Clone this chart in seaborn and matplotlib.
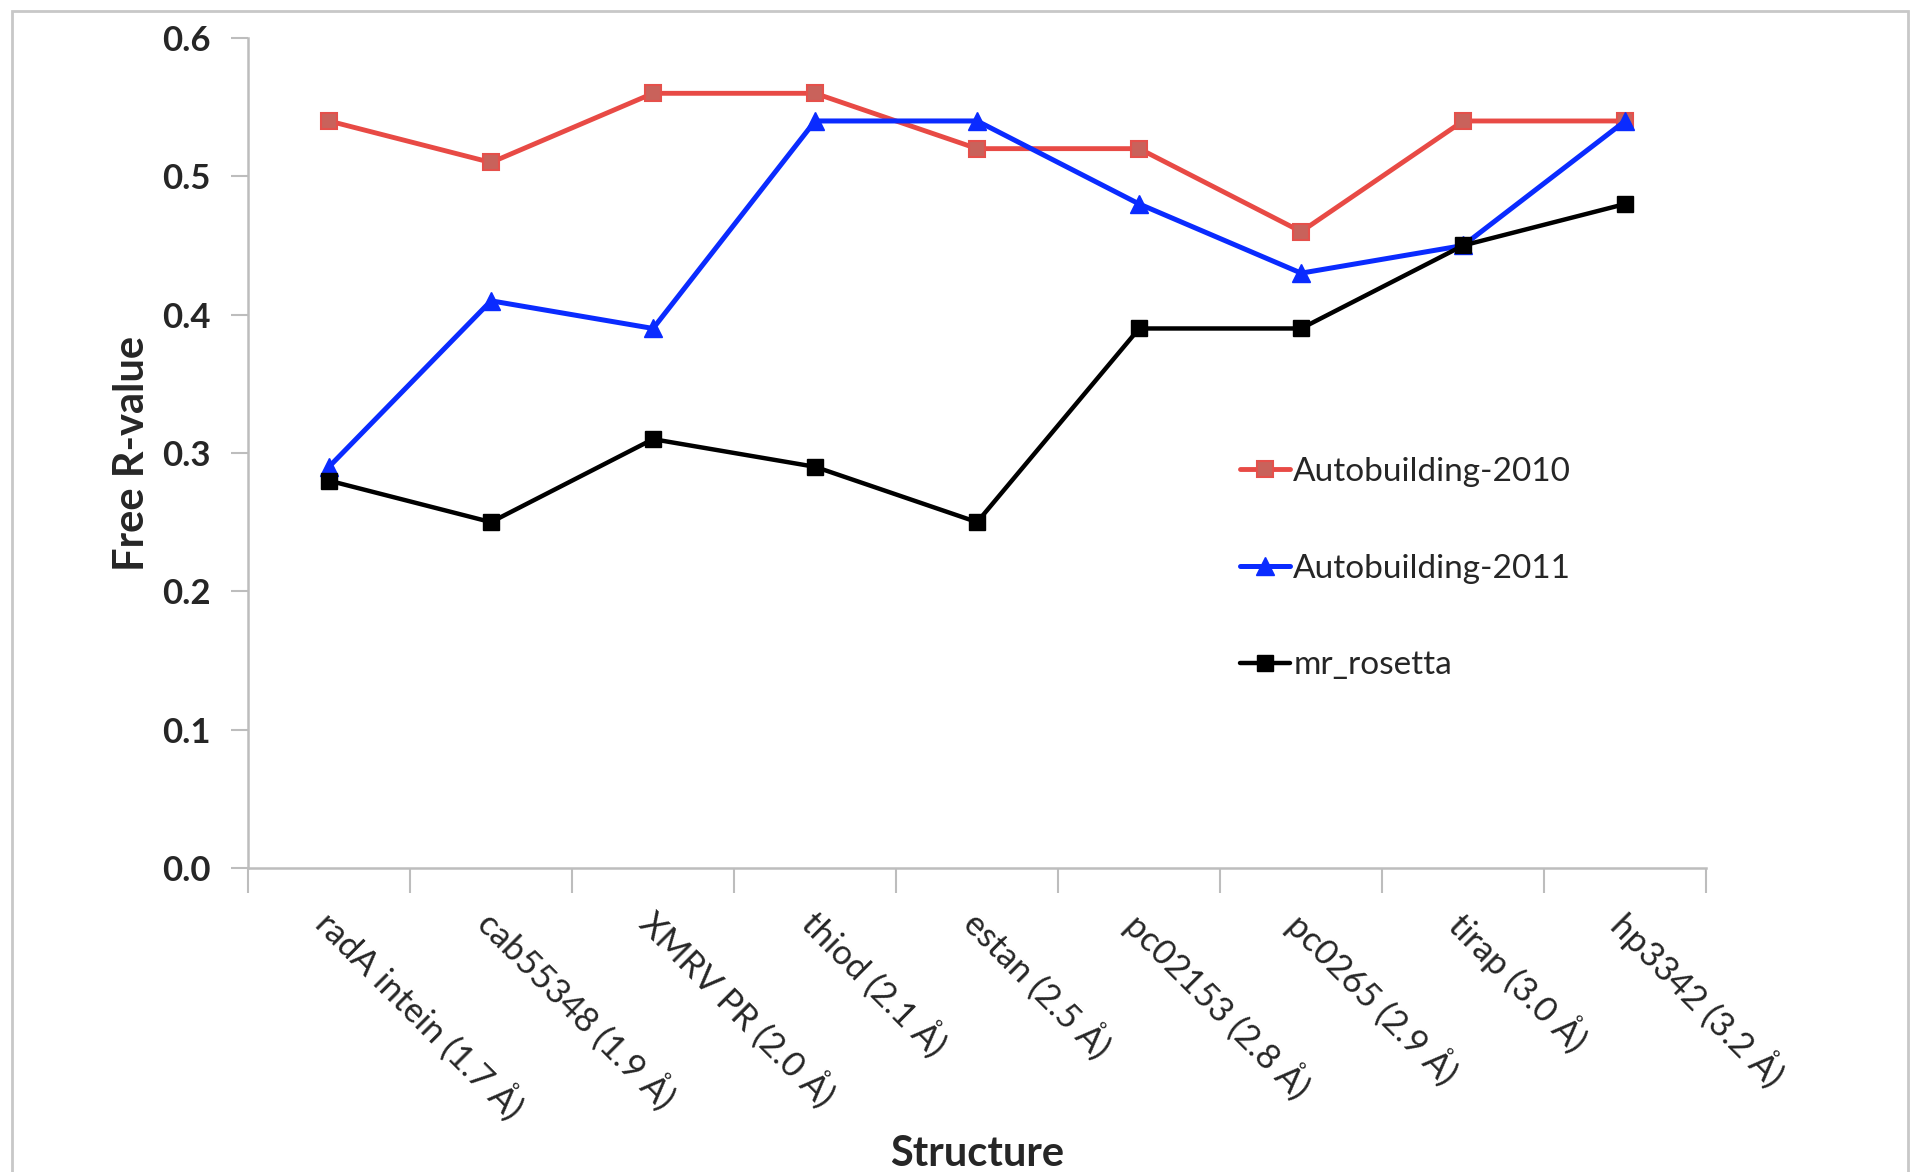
import matplotlib
matplotlib.use("Agg")
import matplotlib.pyplot as plt
import matplotlib.patches as mpatches
from matplotlib.ticker import FixedLocator, NullFormatter
from matplotlib.transforms import ScaledTranslation
import seaborn as sns

# Structures ordered by resolution
structures = [
    "radA intein (1.7 Å)",
    "cab55348 (1.9 Å)",
    "XMRV PR (2.0 Å)",
    "thiod (2.1 Å)",
    "estan (2.5 Å)",
    "pc02153 (2.8 Å)",
    "pc0265 (2.9 Å)",
    "tirap (3.0 Å)",
    "hp3342 (3.2 Å)",
]

# Free R-values per method
autobuilding_2010 = [0.54, 0.51, 0.56, 0.56, 0.52, 0.52, 0.46, 0.54, 0.54]
autobuilding_2011 = [0.29, 0.41, 0.39, 0.54, 0.54, 0.48, 0.43, 0.45, 0.54]
mr_rosetta = [0.28, 0.25, 0.31, 0.29, 0.25, 0.39, 0.39, 0.45, 0.48]

y_ticks = [0.0, 0.1, 0.2, 0.3, 0.4, 0.5, 0.6]

sns.set_theme(style="white")
plt.rcParams["font.family"] = ["Lato", "DejaVu Sans"]

fig = plt.figure(figsize=(19.15, 11.72), dpi=100)
ax = fig.add_axes([0.1295, 0.2594, 0.7615, 0.7082])

positions = list(range(len(structures)))

sns.lineplot(x=positions, y=autobuilding_2010, ax=ax, color="#E84A45",
             linewidth=3.5, marker="s", markersize=12,
             markerfacecolor="#C9625B", markeredgecolor="#E5504B",
             markeredgewidth=1.5, label="Autobuilding-2010")
sns.lineplot(x=positions, y=autobuilding_2011, ax=ax, color="#0A2BFF",
             linewidth=3.6, marker="^", markersize=13,
             markerfacecolor="#0A2BFF", markeredgecolor="#0A2BFF",
             markeredgewidth=1, label="Autobuilding-2011")
sns.lineplot(x=positions, y=mr_rosetta, ax=ax, color="black",
             linewidth=3.2, marker="s", markersize=11,
             markerfacecolor="black", markeredgecolor="black",
             markeredgewidth=1, label="mr_rosetta")

# Axes styling
ax.set_xlim(-0.5, len(structures) - 0.5)
ax.set_ylim(0, 0.6)
for side in ("top", "right"):
    ax.spines[side].set_visible(False)
for side in ("left", "bottom"):
    ax.spines[side].set_color("#BDBDBD")
    ax.spines[side].set_linewidth(1.8)

ax.set_yticks(y_ticks)
ax.set_yticklabels([f"{v:.1f}" for v in y_ticks], fontsize=25, fontweight="bold")
ax.tick_params(axis="y", which="major", direction="out", length=12,
               width=1.5, color="#BDBDBD", pad=15, left=True)

ax.set_xticks(positions)
ax.set_xticklabels(structures, fontsize=25, rotation=-45, ha="left",
                   va="top", rotation_mode="anchor")
ax.tick_params(axis="x", which="major", length=0, pad=26, bottom=True)
shift = ScaledTranslation(6 / 100, 0, fig.dpi_scale_trans)
for lbl in ax.get_xticklabels():
    lbl.set_transform(lbl.get_transform() + shift)
ax.xaxis.set_minor_locator(FixedLocator([p - 0.5 for p in positions] + [len(structures) - 0.5]))
ax.xaxis.set_minor_formatter(NullFormatter())
ax.tick_params(axis="x", which="minor", direction="out", length=18,
               width=1.5, color="#BDBDBD", bottom=True)

ax.set_ylabel("Free R-value", fontsize=30, fontweight="bold", labelpad=8)
ax.set_xlabel("Structure", fontsize=30, fontweight="bold")
ax.xaxis.set_label_coords(0.5, -0.345)
ax.xaxis.label.set_va("center")

leg = ax.legend(loc="upper left", bbox_to_anchor=(1240 / 1915, 1 - 457 / 1172),
                bbox_transform=fig.transFigure, frameon=False, fontsize=24,
                handlelength=1.5, handletextpad=0.1, labelspacing=2.0,
                borderpad=0, borderaxespad=0)

# Light frame around the chart area
frame = mpatches.Rectangle((12 / 1915, -0.05), (1908 - 12) / 1915, 1.05 - 11 / 1172,
                           transform=fig.transFigure, fill=False,
                           edgecolor="#C8C8C8", linewidth=2, clip_on=False)
fig.patches.append(frame)

fig.savefig("out.png", dpi=100, facecolor="white")
